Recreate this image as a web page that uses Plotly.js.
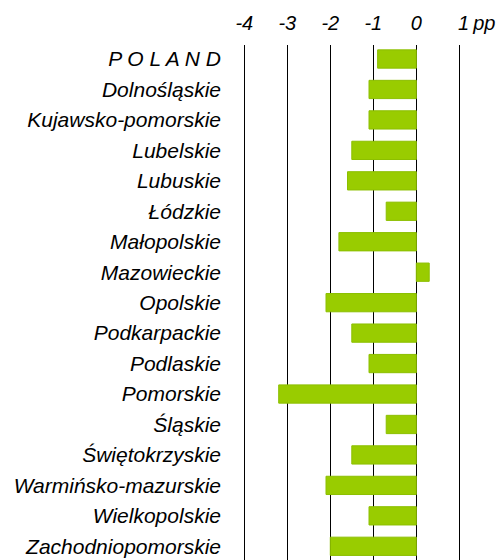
<!DOCTYPE html>
<html>
<head>
<meta charset="utf-8">
<script src="https://cdn.plot.ly/plotly-3.0.1.min.js"></script>
<style>html,body{margin:0;padding:0;background:#fff;}#chart{width:496px;height:560px;}</style>
</head>
<body>
<div id="chart"></div>
<script>
const regions = ["P O L A N D","Dolnośląskie","Kujawsko-pomorskie","Lubelskie","Lubuskie","Łódzkie","Małopolskie","Mazowieckie","Opolskie","Podkarpackie","Podlaskie","Pomorskie","Śląskie","Świętokrzyskie","Warmińsko-mazurskie","Wielkopolskie","Zachodniopomorskie"];
const change = [-0.9,-1.1,-1.1,-1.5,-1.6,-0.7,-1.8,0.3,-2.1,-1.5,-1.1,-3.2,-0.7,-1.5,-2.1,-1.1,-2.0];
const tickVals = [-4,-3,-2,-1,0,1];
const tickText = ["-4","-3","-2","-1","0",""];
const unitLabel = "1\u2009pp";

const trace = {
  type: "bar",
  orientation: "h",
  x: change,
  y: regions,
  width: 0.6,
  marker: {color: "#99cc00", line: {color: "#8cbf00", width: 1}},
  hoverinfo: "none"
};

const FONT = "Liberation Sans, Arial, sans-serif";

const layout = {
  width: 496, height: 560,
  margin: {l: 224, r: 0, t: 45, b: 0},
  paper_bgcolor: "#fff", plot_bgcolor: "#fff",
  showlegend: false,
  font: {family: FONT, size: 20, color: "#000"},
  xaxis: {
    side: "top",
    range: [-4.472, 1.853],
    tickvals: tickVals, ticktext: tickText,
    tickfont: {family: FONT, size: 20, color: "#000", style: "italic"},
    ticklabelstandoff: 10,
    showgrid: true, gridcolor: "#000", gridwidth: 1.3,
    zeroline: true, zerolinecolor: "#000", zerolinewidth: 1.3,
    showline: false, ticks: "", fixedrange: true
  },
  yaxis: {
    type: "category",
    range: [16.45, -0.46],
    tickfont: {family: FONT, size: 21, color: "#000", style: "italic"},
    ticklabelstandoff: 2,
    showgrid: false, zeroline: false, showline: false, ticks: "", fixedrange: true
  },
  annotations: [{
    xref: "x", yref: "paper", x: 1, y: 1, xanchor: "left", yanchor: "middle",
    xshift: -3, yshift: 22, text: unitLabel, showarrow: false,
    font: {family: FONT, size: 20, color: "#000", style: "italic"}
  }]
};

Plotly.newPlot("chart", [trace], layout, {displayModeBar: false, staticPlot: true});
</script>
</body>
</html>
